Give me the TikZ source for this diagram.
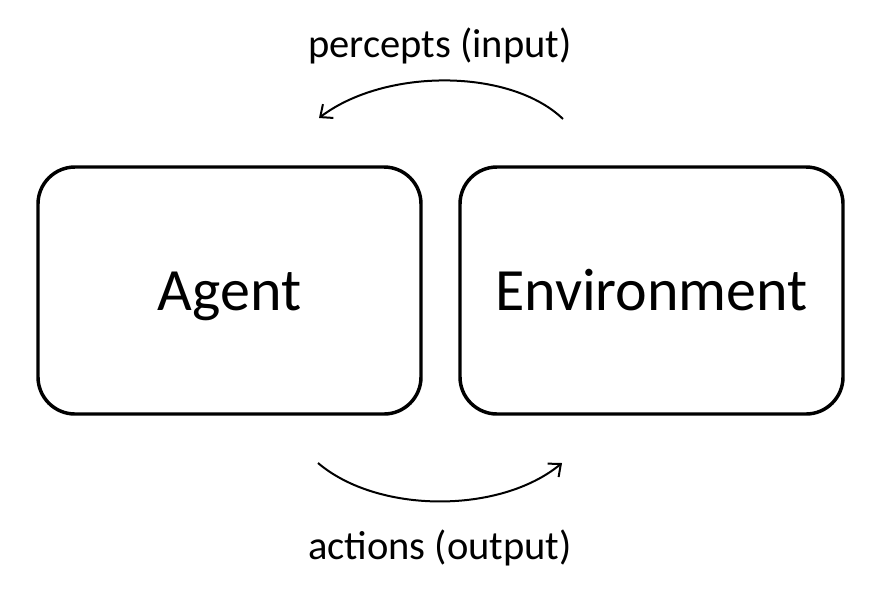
\documentclass[tikz,border=0pt]{standalone}
\usepackage{fontspec}
\setmainfont{Carlito}
\usetikzlibrary{arrows.meta}
\begin{document}
\begin{tikzpicture}[x=0.75pt,y=-0.75pt,
  box/.style={draw=black, line width=2.6pt, rounded corners=27.75pt,
    minimum width=287.25pt, minimum height=185.25pt, inner sep=0pt, outer sep=0pt},
  big/.style={font=\fontsize{45pt}{54pt}\selectfont},
  lbl/.style={font=\fontsize{30.4pt}{36pt}\selectfont, anchor=base},
  arc/.style={line width=1.5pt, -{Straight Barb[length=7.5pt,width=13pt,line width=1.5pt]}}]
\useasboundingbox (0,0) rectangle (884,597);
\node[box] (agent) at (229.5,290.5) {};
\node[box] (env) at (651.5,290.5) {};
\node[big, anchor=base] (agentlbl) at (229.5,310) {Agent};
\node[big, anchor=base] (envlbl) at (651.5,310) {Environment};
\node[lbl] (percepts) at (440,57) {percepts (input)};
\node[lbl] (actions) at (440,559) {actions (output)};
\coordinate (p1) at (563,119);
\coordinate (p2) at (319,118);
\coordinate (a1) at (318,463);
\coordinate (a2) at (562,463);
\draw[arc] (p1) .. controls (510,68) and (385,68) .. (p2);
\draw[arc] (a1) .. controls (378,514) and (500,514) .. (a2);
\end{tikzpicture}
\end{document}
